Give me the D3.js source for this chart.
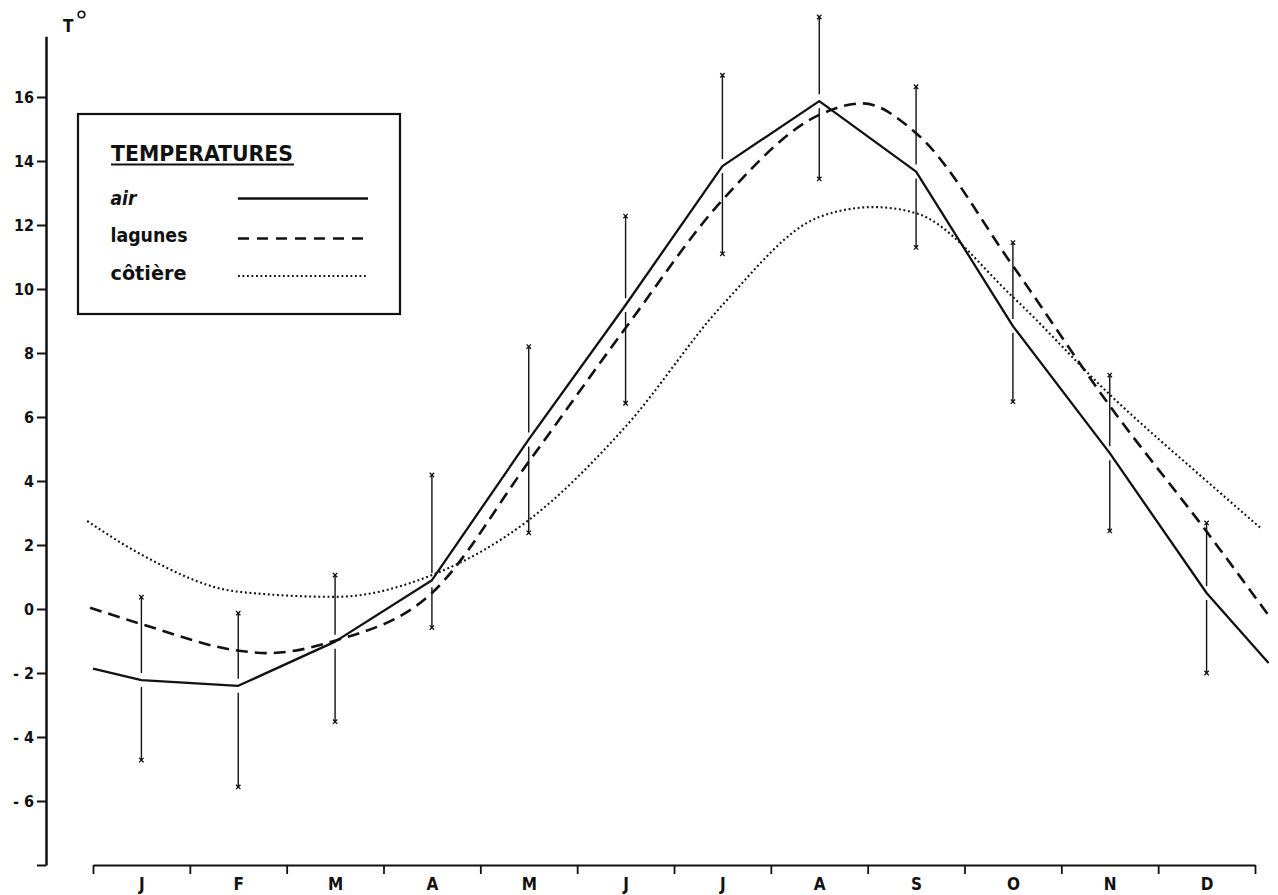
<!DOCTYPE html>
<html>
<head>
<meta charset="utf-8">
<script src="https://cdn.jsdelivr.net/npm/d3@7"></script>
<style>
body { margin: 0; background: #fff; }
text { font-family: "Liberation Sans Narrow", "DejaVu Sans Condensed", "Liberation Sans", Arial, sans-serif; font-weight: bold; fill: #111; }
</style>
</head>
<body>
<svg id="viz" width="1278" height="895"></svg>
<script>
// month labels, x positions are in months (0 = start of Jan, 0.5 = mid Jan)
var months = ["J","F","M","A","M","J","J","A","S","O","N","D"];
var yTicks = [-8,-6,-4,-2,0,2,4,6,8,10,12,14,16];

// air (solid)
var airPos = [0, 0.5, 1.5, 2.5, 3.5, 4.5, 5.5, 6.5, 7.5, 8.5, 9.5, 10.5, 11.5, 12.14];
var airT   = [-1.86, -2.22, -2.4, -1.02, 0.9, 5.3, 9.5, 13.84, 15.87, 13.67, 8.84, 4.87, 0.5, -1.69];
// lagunes (dashed)
var lagPos = [-0.03, 0.5, 1.5, 1.8, 2.5, 3.5, 4.5, 5.5, 6.5, 7.5, 7.95, 8.5, 9.5, 10.5, 11.5, 12.15];
var lagT   = [0.04, -0.47, -1.3, -1.38, -0.99, 0.5, 4.6, 8.78, 12.78, 15.44, 15.8, 14.87, 10.72, 6.35, 2.42, -0.24];
// côtière (dotted)
var cotPos = [-0.06, 0.5, 1.5, 2.5, 3.5, 4.5, 5.5, 6.5, 7.5, 8.06, 8.5, 9.5, 10.5, 11.5, 12.07];
var cotT   = [2.75, 1.7, 0.54, 0.38, 1.06, 2.78, 5.7, 9.5, 12.25, 12.56, 12.37, 9.75, 6.7, 4.0, 2.5];
// monthly extremes of air temperature
var errHigh = [0.37, -0.13, 1.06, 4.19, 8.2, 12.28, 16.68, 18.5, 16.32, 11.45, 7.31, 2.69];
var errLow  = [-4.72, -5.56, -3.52, -0.58, 2.38, 6.43, 11.1, 13.44, 11.3, 6.48, 2.44, -2.0];

var svg = d3.select("#viz");
var x = d3.scaleLinear().domain([0, 12]).range([93, 1255]);
var y = d3.scaleLinear().domain([-8, 17.9]).range([865, 36.2]);

function pairs(p, t) { return p.map(function(v, i) { return [v, t[i]]; }); }

// y axis
var ya = svg.append("g").attr("transform", "translate(46,0)")
  .call(d3.axisLeft(y).tickValues(yTicks).tickSize(9).tickSizeOuter(0).tickPadding(3)
    .tickFormat(function(d) { return d == -8 ? "" : (d < 0 ? "- " + (-d) : d); }));
ya.select(".domain").attr("stroke", "#111").attr("stroke-width", 2.5);
ya.selectAll(".tick line").attr("stroke", "#111").attr("stroke-width", 2);
ya.selectAll(".tick text").style("font-size", "16px").attr("fill", "#111");

// x axis, ticks at month boundaries
var xa = svg.append("g").attr("transform", "translate(0,865)")
  .call(d3.axisBottom(x).tickValues(d3.range(13)).tickSize(9).tickSizeOuter(0).tickFormat(""));
xa.select(".domain").attr("stroke", "#111").attr("stroke-width", 2);
xa.selectAll(".tick line").attr("stroke", "#111").attr("stroke-width", 1.8);

var xl = svg.append("g").attr("transform", "translate(0,865)")
  .call(d3.axisBottom(x).tickValues(d3.range(12).map(function(i) { return i + 0.5; }))
    .tickSize(0).tickPadding(13).tickFormat(function(d) { return months[Math.floor(d)]; }));
xl.select(".domain").remove();
xl.selectAll(".tick text").style("font-size", "17px").attr("fill", "#111");

// T°
svg.append("text").attr("x", 63).attr("y", 32).style("font-size", "17px").text("T");
svg.append("circle").attr("cx", 81.5).attr("cy", 14.5).attr("r", 3.3)
  .attr("fill", "none").attr("stroke", "#111").attr("stroke-width", 1.6);

// error bars, broken around the air line
var bars = svg.append("g").attr("stroke", "#111").attr("stroke-width", 1.4).attr("fill", "none");
errHigh.forEach(function(h, i) {
  var cx = x(i + 0.5);
  var ya0 = y(airT[i + 1]);
  bars.append("line").attr("x1", cx).attr("x2", cx).attr("y1", y(h)).attr("y2", ya0 - 7);
  bars.append("line").attr("x1", cx).attr("x2", cx).attr("y1", ya0 + 7).attr("y2", y(errLow[i]));
  [h, errLow[i]].forEach(function(v) {
    bars.append("path").attr("transform", "translate(" + cx + "," + y(v) + ")")
      .attr("d", "M-2.2,-2.2L2.2,2.2M-2.2,2.2L2.2,-2.2").attr("stroke-width", 1.3);
  });
});

var lineLin = d3.line().x(function(d) { return x(d[0]); }).y(function(d) { return y(d[1]); });
var lineSmooth = d3.line().x(function(d) { return x(d[0]); }).y(function(d) { return y(d[1]); })
  .curve(d3.curveMonotoneX);

svg.append("path").attr("d", lineSmooth(pairs(cotPos, cotT)))
  .attr("fill", "none").attr("stroke", "#111").attr("stroke-width", 2.1).attr("stroke-dasharray", "1.9,2.7");
svg.append("path").attr("d", lineSmooth(pairs(lagPos, lagT)))
  .attr("fill", "none").attr("stroke", "#111").attr("stroke-width", 2.6).attr("stroke-dasharray", "12,7");
svg.append("path").attr("d", lineLin(pairs(airPos, airT)))
  .attr("fill", "none").attr("stroke", "#111").attr("stroke-width", 2.3).attr("stroke-linejoin", "round");

// legend
var lg = svg.append("g");
lg.append("rect").attr("x", 78).attr("y", 114).attr("width", 322).attr("height", 200)
  .attr("fill", "#fff").attr("stroke", "#111").attr("stroke-width", 2.2);
lg.append("text").attr("x", 111).attr("y", 160.5).style("font-size", "21px")
  .attr("textLength", 182).attr("lengthAdjust", "spacingAndGlyphs").text("TEMPERATURES");
lg.append("line").attr("x1", 111).attr("x2", 294).attr("y1", 164.5).attr("y2", 164.5)
  .attr("stroke", "#111").attr("stroke-width", 1.8);

var legItems = [
  { name: "air", y: 205, w: 26, dash: null, sw: 2.3, ly: 198.5, italic: true },
  { name: "lagunes", y: 241.5, w: 77, dash: "11,8", sw: 2.6, ly: 238.5 },
  { name: "côtière", y: 279.5, w: 76, dash: "1.8,2.7", sw: 2, ly: 276 }
];
legItems.forEach(function(d) {
  var t = lg.append("text").attr("x", 110.5).attr("y", d.y).style("font-size", "20px")
    .attr("textLength", d.w).attr("lengthAdjust", "spacingAndGlyphs").text(d.name);
  if (d.italic) t.style("font-style", "italic");
  var l = lg.append("line").attr("x1", 238).attr("x2", 368).attr("y1", d.ly).attr("y2", d.ly)
    .attr("stroke", "#111").attr("stroke-width", d.sw);
  if (d.dash) l.attr("stroke-dasharray", d.dash);
});
</script>
</body>
</html>
